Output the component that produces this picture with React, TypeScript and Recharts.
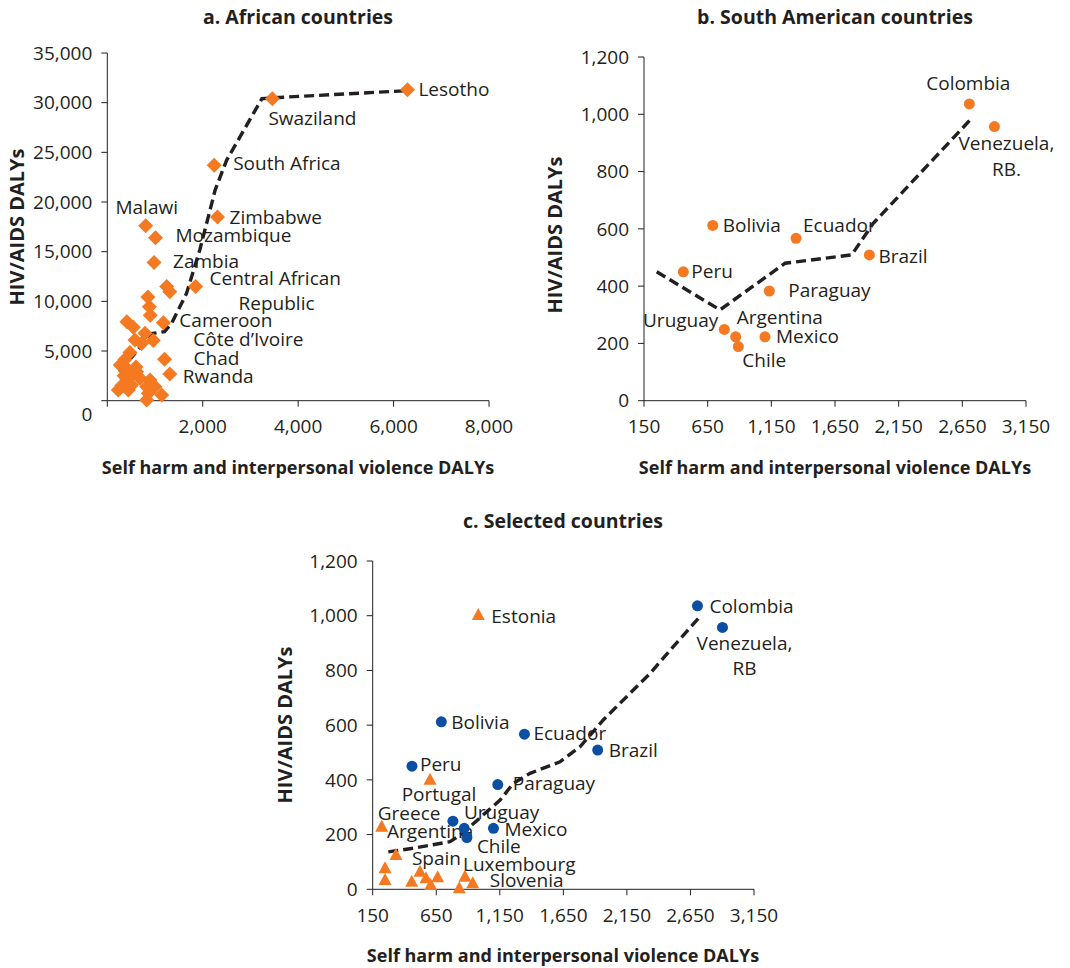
import React from 'react';
import { ScatterChart, Scatter, XAxis, YAxis } from 'recharts';

const FONT = '"Open Sans", "Noto Sans", sans-serif';
const INK = '#231f20';
const ORANGE = '#f47920';
const BLUE = '#0b4ea2';

// ---------- Data ----------
const africaLabeled = [
  { name: 'Lesotho', x: 6290, y: 31300 },
  { name: 'Swaziland', x: 3460, y: 30400 },
  { name: 'South Africa', x: 2240, y: 23700 },
  { name: 'Zimbabwe', x: 2310, y: 18500 },
  { name: 'Malawi', x: 805, y: 17600 },
  { name: 'Mozambique', x: 1010, y: 16400 },
  { name: 'Zambia', x: 980, y: 13900 },
  { name: 'Central African Republic', x: 1850, y: 11500 },
  { name: 'Cameroon', x: 1175, y: 7850 },
  { name: "Côte d'Ivoire", x: 965, y: 6050 },
  { name: 'Chad', x: 1200, y: 4160 },
  { name: 'Rwanda', x: 1310, y: 2700 },
];
const africaOther = [
  { x: 1245, y: 11500 }, { x: 1310, y: 10970 }, { x: 850, y: 10450 }, { x: 880, y: 9450 },
  { x: 900, y: 8600 }, { x: 410, y: 7950 }, { x: 545, y: 7400 }, { x: 790, y: 6800 },
  { x: 580, y: 6100 }, { x: 720, y: 5770 }, { x: 475, y: 4850 }, { x: 370, y: 4150 },
  { x: 270, y: 3600 }, { x: 440, y: 3100 }, { x: 615, y: 2920 }, { x: 685, y: 2250 },
  { x: 407, y: 2080 }, { x: 510, y: 1580 }, { x: 230, y: 1080 }, { x: 440, y: 1080 },
  { x: 895, y: 2080 }, { x: 1000, y: 1410 }, { x: 825, y: 1410 }, { x: 1140, y: 570 },
  { x: 860, y: 740 }, { x: 825, y: 70 }, { x: 600, y: 3400 }, { x: 350, y: 2500 },
  { x: 300, y: 1500 }, { x: 500, y: 2600 },
];
const africaTrend = [
  { x: 250, y: 2900 }, { x: 930, y: 6750 }, { x: 1200, y: 6950 }, { x: 1350, y: 7800 },
  { x: 1660, y: 10800 }, { x: 1940, y: 15200 }, { x: 2260, y: 21200 }, { x: 2500, y: 24200 },
  { x: 3060, y: 28900 }, { x: 3240, y: 30400 }, { x: 3500, y: 30500 }, { x: 6250, y: 31200 },
];

const southAmerica = [
  { name: 'Peru', x: 459, y: 450 },
  { name: 'Bolivia', x: 690, y: 612 },
  { name: 'Uruguay', x: 781, y: 249 },
  { name: 'Argentina', x: 870, y: 223 },
  { name: 'Chile', x: 891, y: 189 },
  { name: 'Mexico', x: 1100, y: 223 },
  { name: 'Paraguay', x: 1134, y: 383 },
  { name: 'Ecuador', x: 1344, y: 567 },
  { name: 'Brazil', x: 1920, y: 509 },
  { name: 'Colombia', x: 2705, y: 1036 },
  { name: 'Venezuela', x: 2902, y: 957 },
];
const southAmericaTrend = [
  { x: 250, y: 450 }, { x: 747, y: 317 }, { x: 1258, y: 480 }, { x: 1781, y: 509 },
  { x: 1950, y: 619 }, { x: 2711, y: 980 },
];

const europe = [
  { name: 'Estonia', x: 981, y: 1003 },
  { name: 'Portugal', x: 601, y: 400 },
  { name: 'Greece', x: 221, y: 229 },
  { name: 'Spain', x: 333, y: 125 },
  { name: '', x: 247, y: 77 },
  { name: '', x: 247, y: 34 },
  { name: '', x: 457, y: 28 },
  { name: '', x: 522, y: 64 },
  { name: '', x: 569, y: 40 },
  { name: '', x: 606, y: 16 },
  { name: '', x: 661, y: 44 },
  { name: '', x: 831, y: 4 },
  { name: 'Luxembourg', x: 876, y: 46 },
  { name: 'Slovenia', x: 937, y: 22 },
];
const selectedTrend = [
  { x: 273, y: 137 }, { x: 470, y: 150 }, { x: 758, y: 174 }, { x: 837, y: 198 },
  { x: 916, y: 229 }, { x: 1034, y: 278 }, { x: 1152, y: 326 }, { x: 1256, y: 387 },
  { x: 1388, y: 424 }, { x: 1624, y: 466 }, { x: 1781, y: 521 }, { x: 1873, y: 570 },
  { x: 1964, y: 619 }, { x: 2148, y: 704 }, { x: 2332, y: 789 }, { x: 2515, y: 887 },
  { x: 2712, y: 990 },
];

const africaXTicks = [0, 2000, 4000, 6000, 8000];
const africaYTicks = [0, 5000, 10000, 15000, 20000, 25000, 30000, 35000];
const saXTicks = [150, 650, 1150, 1650, 2150, 2650, 3150];
const saYTicks = [0, 200, 400, 600, 800, 1000, 1200];

const TITLE_A = 'a. African countries';
const TITLE_B = 'b. South American countries';
const TITLE_C = 'c. Selected countries';
const X_TITLE = 'Self harm and interpersonal violence DALYs';
const Y_TITLE = 'HIV/AIDS DALYs';

// ---------- Label layout (px offsets from the marker) ----------
type Ln = { t: string; dx: number; dy: number; a?: 'start' | 'middle' | 'end' };
const layoutA: Record<string, Ln[]> = {
  Lesotho: [{ t: 'Lesotho', dx: 11, dy: 0 }],
  Swaziland: [{ t: 'Swaziland', dx: -4, dy: 20 }],
  'South Africa': [{ t: 'South Africa', dx: 19, dy: -2 }],
  Zimbabwe: [{ t: 'Zimbabwe', dx: 12, dy: 0 }],
  Malawi: [{ t: 'Malawi', dx: 1, dy: -19, a: 'middle' }],
  Mozambique: [{ t: 'Mozambique', dx: 20, dy: -2 }],
  Zambia: [{ t: 'Zambia', dx: 19, dy: -1 }],
  'Central African Republic': [
    { t: 'Central African', dx: 14, dy: -8 },
    { t: 'Republic', dx: 43, dy: 17 },
  ],
  Cameroon: [{ t: 'Cameroon', dx: 16, dy: -2 }],
  "Côte d'Ivoire": [{ t: 'Côte d’Ivoire', dx: 40, dy: -1 }],
  Chad: [{ t: 'Chad', dx: 29, dy: -1 }],
  Rwanda: [{ t: 'Rwanda', dx: 13, dy: 2 }],
};
const layoutB: Record<string, Ln[]> = {
  Colombia: [{ t: 'Colombia', dx: -1, dy: -21, a: 'middle' }],
  Venezuela: [
    { t: 'Venezuela,', dx: 12, dy: 17, a: 'middle' },
    { t: 'RB.', dx: 12, dy: 43, a: 'middle' },
  ],
  Bolivia: [{ t: 'Bolivia', dx: 10, dy: 0 }],
  Ecuador: [{ t: 'Ecuador', dx: 7, dy: -13 }],
  Brazil: [{ t: 'Brazil', dx: 9, dy: 1 }],
  Peru: [{ t: 'Peru', dx: 8, dy: 0 }],
  Paraguay: [{ t: 'Paraguay', dx: 19, dy: -1 }],
  Uruguay: [{ t: 'Uruguay', dx: -6, dy: -9, a: 'end' }],
  Argentina: [{ t: 'Argentina', dx: 1, dy: -19 }],
  Mexico: [{ t: 'Mexico', dx: 11, dy: 0 }],
  Chile: [{ t: 'Chile', dx: 4, dy: 14 }],
};
const layoutC: Record<string, Ln[]> = {
  Colombia: [{ t: 'Colombia', dx: 12, dy: 0 }],
  Venezuela: [
    { t: 'Venezuela,', dx: 22, dy: 16, a: 'middle' },
    { t: 'RB', dx: 22, dy: 41, a: 'middle' },
  ],
  Bolivia: [{ t: 'Bolivia', dx: 10, dy: 0 }],
  Ecuador: [{ t: 'Ecuador', dx: 9, dy: -1 }],
  Brazil: [{ t: 'Brazil', dx: 11, dy: 0 }],
  Peru: [{ t: 'Peru', dx: 8, dy: -2 }],
  Paraguay: [{ t: 'Paraguay', dx: 15, dy: -1 }],
  Uruguay: [{ t: 'Uruguay', dx: 11, dy: -9 }],
  Argentina: [{ t: 'Argentina', dx: 9, dy: 3, a: 'end' }],
  Mexico: [{ t: 'Mexico', dx: 11, dy: 1 }],
  Chile: [{ t: 'Chile', dx: 10, dy: 9 }],
  Estonia: [{ t: 'Estonia', dx: 13, dy: 1 }],
  Portugal: [{ t: 'Portugal', dx: 9, dy: 14, a: 'middle' }],
  Greece: [{ t: 'Greece', dx: -4, dy: -13 }],
  Spain: [{ t: 'Spain', dx: 16, dy: 3 }],
  Luxembourg: [{ t: 'Luxembourg', dx: -2, dy: -12 }],
  Slovenia: [{ t: 'Slovenia', dx: 17, dy: -3 }],
};

// ---------- Helpers ----------
const fmt = (v: number) => v.toLocaleString('en-US');
const LABEL_SIZE = 19;
const TICK_SIZE = 19;

const makeLabelShape = (layout: Record<string, Ln[]>) => (p: any) => {
  const name = p?.payload?.name;
  const lines = name ? layout[name] : undefined;
  if (!lines) return <g />;
  return (
    <g>
      {lines.map((ln, i) => (
        <text
          key={i}
          x={p.cx + ln.dx}
          y={p.cy + ln.dy}
          dy="0.35em"
          textAnchor={ln.a ?? 'start'}
          fontFamily={FONT}
          fontSize={LABEL_SIZE}
          fill={INK}
        >
          {ln.t}
        </text>
      ))}
    </g>
  );
};

const Diamond = (p: any) => {
  const { cx, cy } = p;
  const r = 7.5;
  return <polygon points={`${cx},${cy - r} ${cx + r},${cy} ${cx},${cy + r} ${cx - r},${cy}`} fill={ORANGE} />;
};
const makeDot = (color: string) => (p: any) => <circle cx={p.cx} cy={p.cy} r={5.5} fill={color} />;
const Triangle = (p: any) => {
  const { cx, cy } = p;
  return <polygon points={`${cx},${cy - 7} ${cx + 6.5},${cy + 5} ${cx - 6.5},${cy + 5}`} fill={ORANGE} />;
};
const Nothing = () => <g />;

const trendLine = { stroke: INK, strokeWidth: 3.4, strokeDasharray: '10 5' };

const makeYTick = (zeroShift: number) => (props: any) => {
  const { x, y, payload } = props;
  const shift = payload.value === 0 ? zeroShift : 0;
  return (
    <text x={x} y={y + shift} dy="0.355em" textAnchor="end" fontFamily={FONT} fontSize={TICK_SIZE} fill={INK}>
      {fmt(payload.value)}
    </text>
  );
};

const axisCommon = {
  axisLine: { stroke: INK, strokeWidth: 1 },
  tickLine: { stroke: INK, strokeWidth: 1 },
  tickSize: 6,
  tick: { fill: INK, fontSize: TICK_SIZE, fontFamily: FONT },
};

const Txt = ({ cx, cy, text, rotate = 0, size = 18 }: any) => (
  <div
    style={{
      position: 'absolute',
      left: cx,
      top: cy,
      transform: `translate(-50%, -50%) rotate(${rotate}deg)`,
      whiteSpace: 'nowrap',
      fontFamily: FONT,
      fontWeight: 700,
      fontSize: size,
      lineHeight: 1,
      color: INK,
    }}
  >
    {text}
  </div>
);

export default function App() {
  return (
    <div style={{ position: 'absolute', left: 0, top: 0, width: 1070, height: 968, background: '#fff' }}>
      {/* Chart a */}
      <div style={{ position: 'absolute', left: 0, top: 0 }}>
        <ScatterChart width={520} height={480} margin={{ top: 53, left: 47.3, right: 31, bottom: 39.3 }}>
          <XAxis
            type="number"
            dataKey="x"
            domain={[0, 8000]}
            ticks={africaXTicks}
            tickFormatter={(v: number) => (v === 0 ? '' : fmt(v))}
            height={40}
            tickMargin={13}
            {...axisCommon}
          />
          <YAxis
            type="number"
            dataKey="y"
            domain={[0, 35000]}
            ticks={africaYTicks}
            width={60}
            tickMargin={9}
            {...axisCommon}
            tick={makeYTick(14)}
          />
          <Scatter data={africaLabeled} shape={makeLabelShape(layoutA)} isAnimationActive={false} />
          <Scatter data={africaTrend} line={trendLine} shape={Nothing} isAnimationActive={false} />
          <Scatter data={africaOther} shape={Diamond} isAnimationActive={false} />
          <Scatter data={africaLabeled} shape={Diamond} isAnimationActive={false} />
        </ScatterChart>
      </div>

      {/* Chart b */}
      <div style={{ position: 'absolute', left: 540, top: 0 }}>
        <ScatterChart width={530} height={480} margin={{ top: 57, left: 44, right: 44, bottom: 39.3 }}>
          <XAxis
            type="number"
            dataKey="x"
            domain={[150, 3150]}
            ticks={saXTicks}
            tickFormatter={fmt}
            height={40}
            tickMargin={13}
            {...axisCommon}
          />
          <YAxis
            type="number"
            dataKey="y"
            domain={[0, 1200]}
            ticks={saYTicks}
            width={60}
            tickMargin={9}
            {...axisCommon}
            tick={makeYTick(0)}
          />
          <Scatter data={southAmerica} shape={makeLabelShape(layoutB)} isAnimationActive={false} />
          <Scatter data={southAmericaTrend} line={trendLine} shape={Nothing} isAnimationActive={false} />
          <Scatter data={southAmerica} shape={makeDot(ORANGE)} isAnimationActive={false} />
        </ScatterChart>
      </div>

      {/* Chart c */}
      <div style={{ position: 'absolute', left: 270, top: 500 }}>
        <ScatterChart width={530} height={468} margin={{ top: 61, left: 42.7, right: 46, bottom: 38.7 }}>
          <XAxis
            type="number"
            dataKey="x"
            domain={[150, 3150]}
            ticks={saXTicks}
            tickFormatter={fmt}
            height={40}
            tickMargin={13}
            {...axisCommon}
          />
          <YAxis
            type="number"
            dataKey="y"
            domain={[0, 1200]}
            ticks={saYTicks}
            width={60}
            tickMargin={9}
            {...axisCommon}
            tick={makeYTick(0)}
          />
          <Scatter data={southAmerica} shape={makeLabelShape(layoutC)} isAnimationActive={false} />
          <Scatter data={europe} shape={makeLabelShape(layoutC)} isAnimationActive={false} />
          <Scatter data={selectedTrend} line={trendLine} shape={Nothing} isAnimationActive={false} />
          <Scatter data={southAmerica} shape={makeDot(BLUE)} isAnimationActive={false} />
          <Scatter data={europe} shape={Triangle} isAnimationActive={false} />
        </ScatterChart>
      </div>

      <Txt cx={298} cy={17} text={TITLE_A} size={19.5} />
      <Txt cx={835} cy={17} text={TITLE_B} size={19.5} />
      <Txt cx={563} cy={521} text={TITLE_C} size={19.5} />
      <Txt cx={298} cy={467} text={X_TITLE} size={18} />
      <Txt cx={835} cy={467} text={X_TITLE} size={18} />
      <Txt cx={563} cy={955} text={X_TITLE} size={18} />
      <Txt cx={17} cy={227} text={Y_TITLE} rotate={-90} size={20} />
      <Txt cx={555} cy={235} text={Y_TITLE} rotate={-90} size={20} />
      <Txt cx={285} cy={725} text={Y_TITLE} rotate={-90} size={20} />
    </div>
  );
}
